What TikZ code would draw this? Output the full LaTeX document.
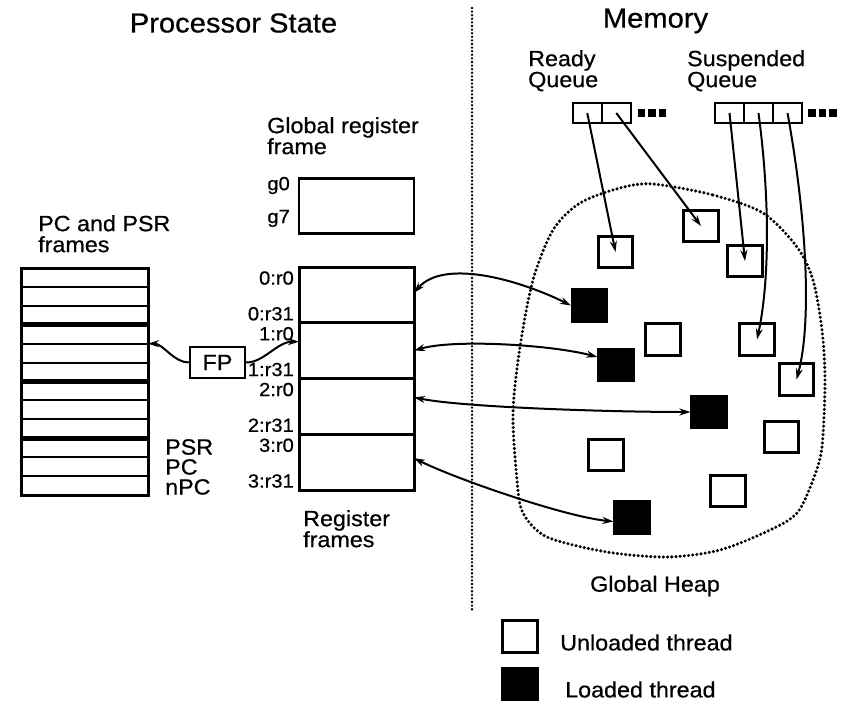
\documentclass[tikz,border=0pt]{standalone}
\usepackage{fontspec}
\setmainfont{Liberation Sans}[FakeStretch=1.06,FakeBold=0.6]
\usetikzlibrary{arrows.meta,positioning,calc}

\begin{document}
\begin{tikzpicture}[
  x=1pt, y=-1pt,
  ttl/.style={font=\fontsize{27.5}{31}\selectfont, inner sep=0pt},
  lbl/.style={font=\fontsize{22}{21}\selectfont, align=left, inner sep=0pt,
              anchor=north west},
  reg/.style={font=\fontsize{19}{21}\selectfont, inner sep=0pt, anchor=east},
  frm/.style={draw, line width=2.6pt, minimum width=115pt,
              minimum height=55.75pt, inner sep=0pt, outer sep=0pt},
  pcrow/.style={draw, line width=2pt, minimum width=127pt,
                minimum height=18.92pt, inner sep=0pt, outer sep=0pt},
  cell/.style={draw, line width=2.2pt, minimum width=29pt,
               minimum height=20pt, inner sep=0pt, outer sep=0pt},
  unl/.style={draw, line width=2.6pt, fill=white, minimum width=34.5pt,
              minimum height=31.5pt, inner sep=0pt},
  ldd/.style={unl, fill=black},
  arr/.style={line width=2pt, -{Stealth[length=11pt,width=7pt]}},
  biarr/.style={line width=2pt,
                {Stealth[length=11pt,width=7pt]}-{Stealth[length=11pt,width=7pt]}},
  heapline/.style={line width=3.4pt, line cap=round, dash pattern=on 0pt off 4.2pt},
  sepline/.style={line width=2.6pt, line cap=round, dash pattern=on 0pt off 3.6pt}
]
\useasboundingbox (0,0) rectangle (844,701);

% titles and separator
\node[ttl] (pst) at (233.5,23) {Processor State};
\node[ttl] (mem) at (655.5,21) {Memory};
\draw[sepline] (472,8) -- (472,612);

% global register frame
\node[lbl] (gfl) at (267,117) {Global register\\frame};
\node[frm, minimum height=55pt] (gf) at (356.5,206) {};
\node[reg] (g0) at ([xshift=-9pt,yshift=-7pt]gf.north west) {g0};
\node[reg] (g7) at ([xshift=-9pt,yshift=15pt]gf.south west) {g7};

% register frames
\foreach \i in {0,...,3}{
  \node[frm] (rf\i) at (356.5,{294.9+55.75*\i}) {};
  \node[reg] (ra\i) at ([xshift=-5pt,yshift=-11pt]rf\i.north west) {\i:r0};
  \node[reg] (rb\i) at ([xshift=-5pt,yshift=9pt]rf\i.south west) {\i:r31};
}
\draw[line width=3pt] (rf0.north west) rectangle (rf3.south east);
\node[lbl] (rfl) at (303,510) {Register\\frames};

% PC and PSR frames
\node[lbl] (pcl) at (38,215) {PC and PSR\\frames};
\foreach \i in {0,...,11}
  \node[pcrow] (pc\i) at (84.5,{277.46+18.92*\i}) {};
\draw[line width=3pt] (pc0.north west) rectangle (pc11.south east);
\foreach \i in {2,5,8}
  \draw[line width=4.6pt] (pc\i.south west) -- (pc\i.south east);
\node[lbl, font=\fontsize{22}{20}\selectfont] (psr) at (165,439) {PSR\\PC\\nPC};

% frame pointer
\node[draw, line width=2.4pt, minimum width=55pt, minimum height=31pt,
      inner sep=0pt, font=\fontsize{22}{24}\selectfont] (fp) at (217.5,362.5) {FP};
\draw[arr] (fp.west) .. controls +(-15,0) and +(15,0) .. (pc3.south east);
\draw[arr] (fp.east) .. controls +(18,0) and +(-22,0) .. ([yshift=9pt]rf1.west);

% queues
\node[lbl] (rql) at (528,50) {Ready\\Queue};
\node[lbl] (sql) at (687,50) {Suspended\\Queue};
\node[cell] (rq1) at (587.25,113) {};
\node[cell, right=0pt of rq1] (rq2) {};
\node[cell] (sq1) at (729.5,113) {};
\node[cell, right=0pt of sq1] (sq2) {};
\node[cell, right=0pt of sq2] (sq3) {};
\foreach \k in {0,1,2}{
  \fill ($(rq2.east)+({7+10.5*\k},-4)$) rectangle +(7.5,8);
  \fill ($(sq3.east)+({6+10.5*\k},-4)$) rectangle +(7.5,8);
}

% global heap
\draw[heapline] plot[smooth cycle] coordinates {
  (653,184) (713,195) (763,213) (797,247) (813,280) (822,330) (825,380)
  (822,447) (813,480) (797,513) (770,530) (720,550) (667,557) (607,552)
  (547,537) (523,513) (517,480) (513,413) (520,347) (533,280) (553,230)
  (580,203) (620,188)};
\node[lbl, anchor=center] (ghl) at (655,586) {Global Heap};

% threads
\node[unl] (u1) at (615.5,252) {};
\node[unl] (u2) at (701,226) {};
\node[unl] (u3) at (745,261) {};
\node[unl] (u4) at (663,339.5) {};
\node[unl] (u5) at (757,339.5) {};
\node[unl] (u6) at (796.5,379.5) {};
\node[unl] (u7) at (781.5,437) {};
\node[unl] (u8) at (606,455) {};
\node[unl] (u9) at (728,491) {};
\node[ldd] (l1) at (589.5,305.5) {};
\node[ldd] (l2) at (616,365) {};
\node[ldd] (l3) at (709,412) {};
\node[ldd] (l4) at (632,517.5) {};

% queue links
\draw[arr] (rq1.center) -- (u1.center);
\draw[arr] (rq2.center) -- (u2.center);
\draw[arr] (sq1.center) -- (u3.center);
\draw[arr] (sq2.center) .. controls +(12,90) and +(12,-55) .. (u5.center);
\draw[arr] (sq3.center) .. controls +(20,110) and +(15,-55) .. (u6.center);

% loaded threads <-> register frames
\draw[biarr] ([yshift=2pt]rf0.east) .. controls +(30,-35) and +(-50,-25) .. (l1.west);
\draw[biarr] (rf1.east) .. controls +(40,-12) and +(-45,-12) .. ([yshift=8pt]l2.west);
\draw[biarr] ([yshift=9pt]rf2.east) .. controls +(50,10) and +(-80,0) .. (l3.west);
\draw[biarr] ([yshift=4pt]rf3.east) .. controls +(40,20) and +(-50,-5) .. ([yshift=-4pt]l4.west);

% legend
\node[unl] (lgu) at (520,636.5) {};
\node[lbl, anchor=west] (lgut) at (560,642.5) {Unloaded thread};
\node[ldd] (lgl) at (520,684) {};
\node[lbl, anchor=west] (lglt) at (565,689.5) {Loaded thread};
\end{tikzpicture}
\end{document}
